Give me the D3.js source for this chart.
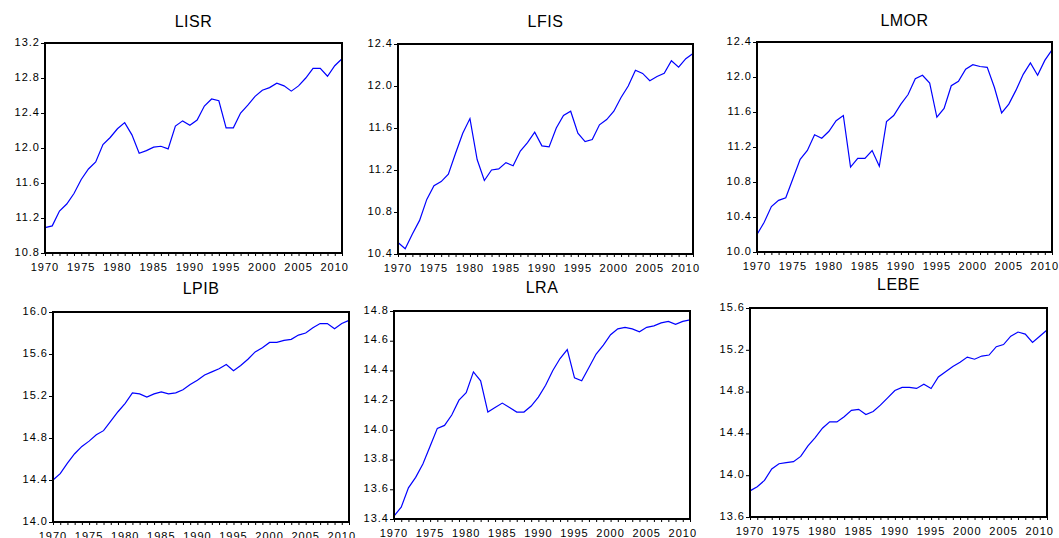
<!DOCTYPE html>
<html>
<head>
<meta charset="utf-8">
<script src="https://cdn.jsdelivr.net/npm/d3@7"></script>
<style>
  body { margin: 0; background: #fff; }
  svg { display: block; font-family: "Liberation Sans", Arial, sans-serif; }
</style>
</head>
<body>
<svg id="chart" width="1059" height="538"></svg>
<script>
const years = d3.range(1970, 2012);
const yearLabels = [1970, 1975, 1980, 1985, 1990, 1995, 2000, 2005, 2010];

const lisr = [11.09, 11.11, 11.28, 11.36, 11.48, 11.64, 11.76, 11.84, 12.04, 12.12,
  12.22, 12.29, 12.15, 11.94, 11.97, 12.01, 12.02, 11.99, 12.25, 12.31,
  12.26, 12.32, 12.48, 12.56, 12.54, 12.23, 12.23, 12.40, 12.49, 12.59,
  12.66, 12.69, 12.74, 12.71, 12.65, 12.71, 12.80, 12.91, 12.91, 12.82,
  12.94, 13.02];
const lfis = [10.51, 10.45, 10.59, 10.72, 10.92, 11.05, 11.09, 11.16, 11.36, 11.55,
  11.69, 11.30, 11.10, 11.20, 11.21, 11.27, 11.24, 11.38, 11.46, 11.56,
  11.43, 11.42, 11.60, 11.72, 11.76, 11.55, 11.47, 11.49, 11.63, 11.68,
  11.76, 11.89, 12.00, 12.15, 12.12, 12.05, 12.09, 12.12, 12.24, 12.18,
  12.26, 12.31];
const lmor = [10.20, 10.34, 10.52, 10.59, 10.62, 10.84, 11.06, 11.16, 11.34, 11.30,
  11.38, 11.50, 11.56, 10.97, 11.07, 11.07, 11.16, 10.98, 11.49, 11.56,
  11.69, 11.80, 11.98, 12.02, 11.93, 11.54, 11.64, 11.90, 11.95, 12.09,
  12.14, 12.12, 12.11, 11.88, 11.59, 11.69, 11.85, 12.03, 12.16, 12.02,
  12.19, 12.31];
const lpib = [14.40, 14.46, 14.56, 14.65, 14.72, 14.77, 14.83, 14.87, 14.96, 15.05,
  15.13, 15.23, 15.22, 15.19, 15.22, 15.24, 15.22, 15.23, 15.26, 15.31,
  15.35, 15.40, 15.43, 15.46, 15.50, 15.44, 15.49, 15.55, 15.62, 15.66,
  15.71, 15.71, 15.73, 15.74, 15.78, 15.80, 15.85, 15.89, 15.89, 15.84,
  15.89, 15.92];
const lra = [13.42, 13.48, 13.61, 13.68, 13.77, 13.89, 14.01, 14.03, 14.10, 14.20,
  14.25, 14.39, 14.33, 14.12, 14.15, 14.18, 14.15, 14.12, 14.12, 14.16,
  14.22, 14.30, 14.40, 14.48, 14.54, 14.35, 14.33, 14.42, 14.51, 14.57,
  14.64, 14.68, 14.69, 14.68, 14.66, 14.69, 14.70, 14.72, 14.73, 14.71,
  14.73, 14.74];
const lebe = [13.85, 13.89, 13.95, 14.06, 14.11, 14.12, 14.13, 14.18, 14.28, 14.36,
  14.45, 14.51, 14.51, 14.56, 14.62, 14.63, 14.58, 14.61, 14.67, 14.74,
  14.81, 14.84, 14.84, 14.83, 14.87, 14.83, 14.94, 14.99, 15.04, 15.08,
  15.13, 15.11, 15.14, 15.15, 15.23, 15.25, 15.33, 15.37, 15.35, 15.27,
  15.33, 15.39];

const lisrTicks = [10.8, 11.2, 11.6, 12.0, 12.4, 12.8, 13.2];
const lfisTicks = [10.4, 10.8, 11.2, 11.6, 12.0, 12.4];
const lmorTicks = [10.0, 10.4, 10.8, 11.2, 11.6, 12.0, 12.4];
const lpibTicks = [14.0, 14.4, 14.8, 15.2, 15.6, 16.0];
const lraTicks = [13.4, 13.6, 13.8, 14.0, 14.2, 14.4, 14.6, 14.8];
const lebeTicks = [13.6, 14.0, 14.4, 14.8, 15.2, 15.6];

// frame boxes [left, top, right, bottom], title baseline
const panels = [
  { name: "LISR", values: lisr, ticks: lisrTicks, box: [45, 43, 342, 253], titleY: 27 },
  { name: "LFIS", values: lfis, ticks: lfisTicks, box: [398, 44, 693, 254], titleY: 27 },
  { name: "LMOR", values: lmor, ticks: lmorTicks, box: [757, 42, 1052, 252], titleY: 26 },
  { name: "LPIB", values: lpib, ticks: lpibTicks, box: [53, 312, 349, 522], titleY: 294 },
  { name: "LRA", values: lra, ticks: lraTicks, box: [394, 311, 690, 519], titleY: 293 },
  { name: "LEBE", values: lebe, ticks: lebeTicks, box: [750, 308, 1047, 517], titleY: 290 }
];

const svg = d3.select("#chart");

panels.forEach(p => {
  const [x0, y0, x1, y1] = p.box;
  const x = d3.scaleLinear().domain([1970, 2011]).range([x0, x1]);
  const y = d3.scaleLinear().domain(d3.extent(p.ticks)).range([y1, y0]);
  const g = svg.append("g");

  g.append("text")
    .attr("x", (x0 + x1) / 2)
    .attr("y", p.titleY)
    .attr("text-anchor", "middle")
    .style("font-size", "16px")
    .style("letter-spacing", "0.5px")
    .text(p.name);

  const yAxis = g.append("g")
    .attr("transform", `translate(${x0},0)`)
    .call(d3.axisLeft(y).tickValues(p.ticks).tickFormat(d3.format(".1f")).tickSize(4).tickPadding(1));
  yAxis.select(".domain").remove();
  yAxis.selectAll("text")
    .attr("dy", "0.2em")
    .style("font-size", "11px")
    .style("letter-spacing", "1px")
    .style("fill", "#000");

  const xAxis = g.append("g")
    .attr("transform", `translate(0,${y1})`)
    .call(d3.axisBottom(x).tickValues(years).tickFormat("").tickSize(3));
  xAxis.select(".domain").remove();

  g.append("g")
    .selectAll("text")
    .data(yearLabels)
    .join("text")
    .attr("x", d => x(d))
    .attr("y", y1 + 18)
    .attr("text-anchor", "middle")
    .style("font-size", "11px")
    .style("letter-spacing", "1px")
    .text(d => d);

  g.append("path")
    .datum(p.values)
    .attr("fill", "none")
    .attr("stroke", "#0000ff")
    .attr("stroke-width", 1.2)
    .attr("d", d3.line().x((d, i) => x(years[i])).y(d => y(d)));

  g.append("rect")
    .attr("x", x0)
    .attr("y", y0)
    .attr("width", x1 - x0)
    .attr("height", y1 - y0)
    .attr("fill", "none")
    .attr("stroke", "#000")
    .attr("stroke-width", 2);
});
</script>
</body>
</html>
